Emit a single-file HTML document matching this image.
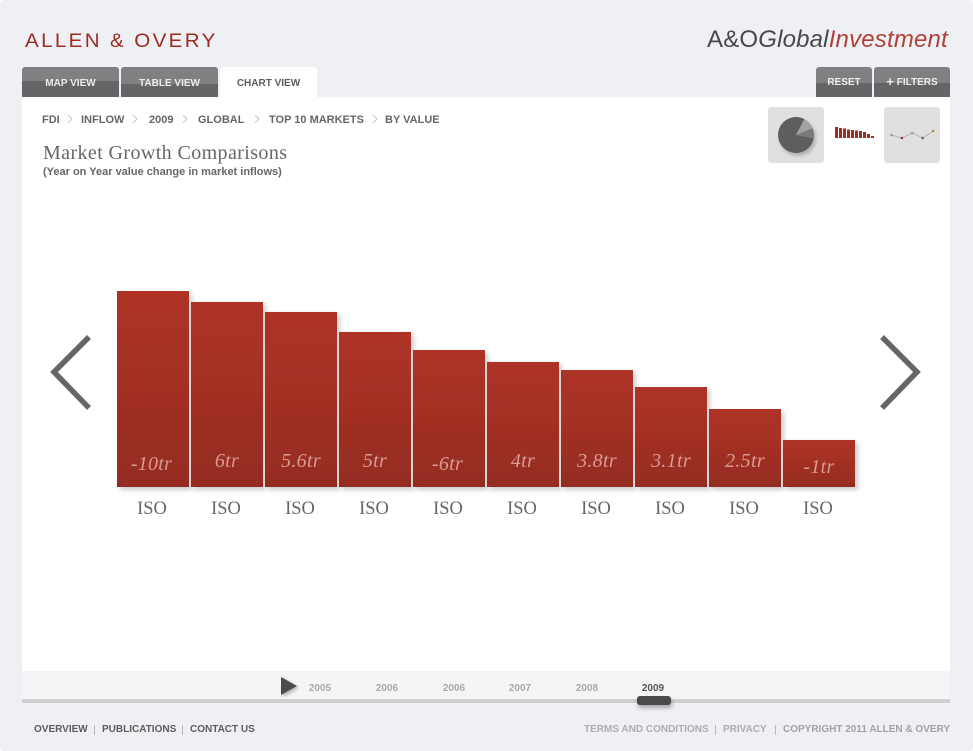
<!DOCTYPE html>
<html lang="en">
<head>
<meta charset="utf-8">
<title>Market Growth Comparisons</title>
<style>
html,body{margin:0;padding:0;background:#fff}
#page{position:relative;width:973px;height:751px;overflow:hidden;background:#eef0f4;border-radius:4px;font-family:"Liberation Sans",sans-serif}
#page>*{position:absolute}
.t{white-space:nowrap;line-height:1}
.tab{top:67px;height:30px;border-radius:3px 3px 0 0;color:#ececec;font:bold 10px/33px "Liberation Sans",sans-serif;text-align:center;cursor:pointer}
.crumb{top:115px;font:bold 11px/1 "Liberation Sans",sans-serif;color:#666;white-space:nowrap}
.year{top:684px;font:bold 10px/1 "Liberation Sans",sans-serif;color:#aaa;width:40px;text-align:center}
.foot{top:725px;font:bold 10px/1 "Liberation Sans",sans-serif;color:#5c5c5f;white-space:nowrap}
.foot.l{color:#adadb0}
.sep{top:725px;width:1px;height:10px;background:#b9b9bc}
.thumb{background:#e0e0e0;border-radius:3px;top:107px;width:56px;height:56px}
</style>
</head>
<body>
<div id="page">
  <div class="t" style="left:25px;top:32px;font-size:19px;letter-spacing:2.2px;color:#9e2a22;transform:scaleX(1.081);transform-origin:0 50%">ALLEN &amp; OVERY</div>
  <div class="t" style="left:707px;top:28px;font-size:24px;letter-spacing:.18px;color:#48484a">A&amp;O<i>Global</i><i style="color:#b04038">Investment</i></div>

  <div class="tab" style="left:22px;width:97px;background:linear-gradient(#808082 0,#808082 14px,#656567 14px)">MAP VIEW</div>
  <div class="tab" style="left:121px;width:97px;background:linear-gradient(#808082 0,#808082 17px,#656567 17px)">TABLE VIEW</div>
  <div class="tab" style="left:220px;width:97px;background:#fff;color:#5c5c5f">CHART VIEW</div>
  <div class="tab" style="left:816px;width:56px;background:linear-gradient(#808082 0,#808082 16px,#656567 16px);line-height:31px">RESET</div>
  <div class="tab" style="left:874px;width:76px;background:linear-gradient(#808082 0,#808082 16px,#656567 16px);line-height:31px"><b style="font-size:13px;line-height:1;vertical-align:-1px">+</b> FILTERS</div>

  <div style="left:22px;top:97px;width:928px;height:574px;background:#fff"></div>

  <span class="crumb" style="left:42px">FDI</span>
  <span class="crumb" style="left:81px">INFLOW</span>
  <span class="crumb" style="left:149px">2009</span>
  <span class="crumb" style="left:198px">GLOBAL</span>
  <span class="crumb" style="left:269px">TOP 10 MARKETS</span>
  <span class="crumb" style="left:385px">BY VALUE</span>
  <svg width="973" height="130" style="left:0;top:0;pointer-events:none" fill="none" stroke="#b5b5b5" stroke-width=".8">
    <path d="M68 115l4 4-4 4M133 115l4 4-4 4M183 115l4 4-4 4M255 115l4 4-4 4M373 115l4 4-4 4"/>
  </svg>

  <div class="t" style="left:43px;top:143px;font-family:'Liberation Serif',serif;font-size:20px;letter-spacing:.4px;color:#67676a">Market Growth Comparisons</div>
  <div class="t" style="left:43px;top:167px;font-size:11px;font-weight:bold;color:#67676a">(Year on Year value change in market inflows)</div>

  <div class="thumb" style="left:768px"></div>
  <div class="thumb" style="left:884px"></div>
  <svg id="thumbs" width="973" height="180" style="left:0;top:0;pointer-events:none">
    <defs><filter id="pieBlur" x="-30%" y="-30%" width="160%" height="160%"><feGaussianBlur stdDeviation="1.8"/></filter></defs>
  </svg>

  <svg id="chart" width="973" height="560" style="left:0;top:0">
    <defs>
      <linearGradient id="barFill" x1="0" y1="0" x2="0" y2="1">
        <stop offset="0" stop-color="#ae3327"/>
        <stop offset="1" stop-color="#952c21"/>
      </linearGradient>
      <filter id="barShadow" x="-10%" y="-5%" width="125%" height="115%">
        <feDropShadow dx="3" dy="3" stdDeviation="2.5" flood-color="#000" flood-opacity=".2"/>
      </filter>
    </defs>
    <polyline points="89,337 54,372 89,408" fill="none" stroke="#666" stroke-width="5.5"/>
    <polyline points="882,337 917,372 882,408" fill="none" stroke="#666" stroke-width="5.5"/>
  </svg>

  <div style="left:22px;top:671px;width:928px;height:28px;background:#f4f5f6"></div>
  <div style="left:22px;top:699px;width:928px;height:4px;background:#cfcfcf"></div>
  <svg width="24" height="26" style="left:278px;top:674px">
    <defs><filter id="playShadow"><feDropShadow dx="2" dy="2" stdDeviation="1.5" flood-opacity=".25"/></filter></defs>
    <polygon points="3,3 19,12 3,21" fill="#4b4b4d" filter="url(#playShadow)"/>
  </svg>
  <div class="year" style="left:300px">2005</div>
  <div class="year" style="left:367px">2006</div>
  <div class="year" style="left:434px">2006</div>
  <div class="year" style="left:500px">2007</div>
  <div class="year" style="left:567px">2008</div>
  <div class="year" style="left:633px;color:#555">2009</div>
  <div style="left:637px;top:696px;width:34px;height:9px;border-radius:3px;background:#4a4a4c;box-shadow:1px 3px 4px rgba(0,0,0,.3)"></div>

  <span class="foot" style="left:34px">OVERVIEW</span>
  <div class="sep" style="left:94px"></div>
  <span class="foot" style="left:102px">PUBLICATIONS</span>
  <div class="sep" style="left:182px"></div>
  <span class="foot" style="left:190px">CONTACT US</span>
  <span class="foot l" style="left:584px">TERMS AND CONDITIONS</span>
  <div class="sep" style="left:715px"></div>
  <span class="foot l" style="left:723px">PRIVACY</span>
  <div class="sep" style="left:775px"></div>
  <span class="foot l" style="left:783px;color:#a2a2a5">COPYRIGHT 2011 ALLEN &amp; OVERY</span>
</div>

<script>
// Main chart data (bar size on a 0-10 scale)
const markets = ['ISO','ISO','ISO','ISO','ISO','ISO','ISO','ISO','ISO','ISO'];
const barValues = [10, 9.44, 8.93, 7.91, 6.99, 6.38, 5.97, 5.10, 3.98, 2.40];
const printedValues = ['-10tr','6tr','5.6tr','5tr','-6tr','4tr','3.8tr','3.1tr','2.5tr','-1tr'];
// Thumbnail data
const pieShares = [80, 11, 9];
const pieShades = ['#5e5e60', '#a2a2a2', '#7a7a7a'];
const miniBarValues = [11, 10, 9.5, 8.5, 8, 7.5, 7, 6, 4, 2];
const miniLineValues = [3, 0, 5, 0, 7];
const miniLineColors = ['#999', '#a33', '#999', '#667', '#b83'];

const NS = 'http://www.w3.org/2000/svg';
const chart = document.getElementById('chart');
const thumbs = document.getElementById('thumbs');

function make(tag, attrs, parent) {
  const el = document.createElementNS(NS, tag);
  for (const k in attrs) el.setAttribute(k, attrs[k]);
  parent.appendChild(el);
  return el;
}

// Axis functions for the main chart
const baselineY = 487;
const pxPerUnit = 19.6;
const yScale = v => baselineY - v * pxPerUnit;
const xScale = i => 117 + i * 74;
const barWidth = 72;

barValues.forEach((v, i) => {
  const bar = make('rect', {x: xScale(i), y: yScale(v), width: barWidth, height: baselineY - yScale(v), fill: 'url(#barFill)', filter: 'url(#barShadow)'}, chart);
  
  
});

printedValues.forEach((s, i) => {
  const negative = s.charAt(0) === '-';
  const short = barValues[i] < 3;
  const label = make('text', {
    x: xScale(i) + barWidth / 2 - (negative && !short ? 1.5 : 0),
    y: 467 + (negative ? 3 : 0) + (short ? 3 : 0),
    'text-anchor': 'middle',
    'font-family': '"Liberation Serif", serif',
    'font-style': 'italic',
    'font-size': 20,
    'letter-spacing': '.3',
    fill: '#d99a93'
  }, chart);
  label.textContent = s;
  
  
});

markets.forEach((s, i) => {
  const label = make('text', {
    x: xScale(i) + barWidth / 2 - 1,
    y: 514,
    'text-anchor': 'middle',
    'font-family': '"Liberation Serif", serif',
    'font-size': 18.5,
    fill: '#666'
  }, chart);
  label.textContent = s;
  
  
});

// Pie thumbnail
const pieCx = 796, pieCy = 135, pieR = 18;
const pieTotal = pieShares.reduce((a, b) => a + b, 0);
const shadow = make('circle', {cx: pieCx + 2, cy: pieCy + 3, r: pieR, fill: '#000', opacity: .22, filter: 'url(#pieBlur)'}, thumbs);


let pieAngle = 10 * Math.PI / 180;
pieShares.forEach((share, i) => {
  const sweep = share / pieTotal * 2 * Math.PI;
  const a0 = pieAngle, a1 = pieAngle + sweep;
  const px = a => pieCx + pieR * Math.cos(a);
  const py = a => pieCy + pieR * Math.sin(a);
  const large = sweep > Math.PI ? 1 : 0;
  const slice = make('path', {d: `M${pieCx} ${pieCy}L${px(a0)} ${py(a0)}A${pieR} ${pieR} 0 ${large} 1 ${px(a1)} ${py(a1)}Z`, fill: pieShades[i]}, thumbs);
  
  
  pieAngle = a1;
});

// Mini bar thumbnail
const miniBase = 138;
miniBarValues.forEach((v, i) => {
  const r = make('rect', {x: 835 + i * 4, y: miniBase - v, width: 3, height: v, fill: '#9c2e24'}, thumbs);
  
  
});

// Mini line thumbnail
const miniX = i => 891.5 + i * 10.4;
const miniY = v => 138 - v;
const miniPoints = miniLineValues.map((v, i) => miniX(i) + ',' + miniY(v)).join(' ');
const miniLine = make('polyline', {points: miniPoints, fill: 'none', stroke: '#b5b5b5', 'stroke-width': 1}, thumbs);


miniLineValues.forEach((v, i) => {
  const c = make('circle', {cx: miniX(i), cy: miniY(v), r: 1.3, fill: miniLineColors[i]}, thumbs);
  
  
});
</script>
</body>
</html>
